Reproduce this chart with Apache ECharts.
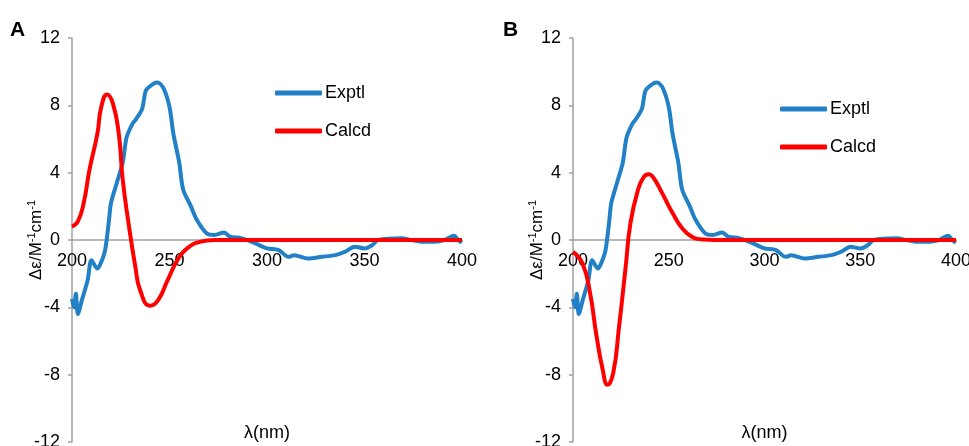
<!DOCTYPE html>
<html>
<head>
<meta charset="utf-8">
<script src="https://cdn.jsdelivr.net/npm/echarts@6/dist/echarts.min.js"></script>
<style>
  html, body { margin: 0; padding: 0; background: #fff; }
  #main { width: 969px; height: 446px; }
</style>
</head>
<body>
<div id="main"></div>
<script>
// experimental CD curve (same in both panels)
var exptlX = [200, 201, 202, 203, 205, 208, 210, 213, 215, 217, 219, 220, 223, 226, 228, 231, 233, 236, 238, 242,
              244, 247, 250, 252, 255, 257, 261, 264, 269, 273, 278, 281, 287, 294, 300, 306, 311, 314, 321, 328,
              335, 340, 345, 350, 354, 357, 369, 374, 379, 386, 391, 396, 398, 400];
var exptlY = [-3.5, -4.0, -3.2, -4.4, -3.6, -2.4, -1.2, -1.7, -1.3, -0.6, 1.2, 2.2, 3.4, 4.6, 6.1, 6.9, 7.2, 7.8, 8.9, 9.3,
              9.35, 9.0, 7.9, 6.3, 4.6, 3.0, 2.0, 1.2, 0.4, 0.3, 0.45, 0.2, 0.1, -0.2, -0.5, -0.6, -1.0, -0.9, -1.1, -1.0,
              -0.9, -0.7, -0.4, -0.5, -0.3, 0, 0.1, 0, -0.1, -0.1, 0, 0.25, 0, -0.15];

// calculated, panel A
var calcdAX = [200, 203, 206, 209, 213, 215, 218, 221, 224, 226, 229, 232.5, 235, 240, 244, 249, 254, 259, 266, 273, 300, 350, 400];
var calcdAY = [0.8, 1.1, 2.2, 4.2, 6.3, 7.9, 8.65, 8.1, 6.3, 3.6, 1.0, -1.6, -3.0, -3.9, -3.6, -2.4, -1.2, -0.5, -0.1, 0, 0, 0, 0];

// calculated, panel B
var calcdBX = [200, 205, 209, 212, 215.5, 218, 221, 224, 227.5, 230, 234, 237, 239.5, 242, 246.5, 252, 257, 262, 268, 280, 300, 350, 400];
var calcdBY = [-0.7, -1.4, -3.2, -5.5, -7.7, -8.6, -7.9, -5.2, -1.6, 1.0, 3.0, 3.75, 3.9, 3.7, 2.8, 1.6, 0.7, 0.2, 0.03, 0, 0, 0, 0];

function zip(xs, ys) {
    var out = [];
    for (var i = 0; i < xs.length; i++) out.push([xs[i], ys[i]]);
    return out;
}

var FONT = '"Liberation Sans", Arial, sans-serif';
var BLUE = '#2180c6';
var RED = '#ff0000';
var AXIS = '#a0a0a0';
var GRID_H = 404;

function xAx(idx) {
    return {
        type: 'value', gridIndex: idx, min: 200, max: 400, interval: 50,
        // put the axis on y = 0 (middle of the -12..12 range)
        offset: -GRID_H / 2,
        axisLine: { onZero: false, lineStyle: { color: AXIS, width: 1.5 } },
        axisTick: { show: false },
        splitLine: { show: false },
        axisLabel: { color: '#000', fontSize: 18, fontFamily: FONT, margin: 12, showMinLabel: true, showMaxLabel: true },
        name: 'λ(nm)', nameLocation: 'middle', nameGap: 184, nameMoveOverlap: false,
        nameTextStyle: { color: '#000', fontSize: 18, fontFamily: FONT }
    };
}

function yAx(idx) {
    return {
        type: 'value', gridIndex: idx, min: -12, max: 12, interval: 4,
        axisLine: { show: true, onZero: false, lineStyle: { color: AXIS, width: 1.5 } },
        axisTick: { show: true, length: 4, lineStyle: { color: AXIS, width: 1.5 } },
        splitLine: { show: false },
        axisLabel: { color: '#000', fontSize: 18, fontFamily: FONT, margin: 12 },
        name: '{t|Δε/M}{s|-1}{t|cm}{s|-1}', nameLocation: 'middle', nameGap: 26, nameMoveOverlap: false,
        nameTextStyle: {
            rich: {
                t: { fontSize: 17, fontFamily: FONT, color: '#000', lineHeight: 20 },
                s: { fontSize: 11, fontFamily: FONT, color: '#000', lineHeight: 20, verticalAlign: 'top', padding: [0, 0, 8, 0] }
            }
        }
    };
}

function lineSeries(name, color, data, idx, smooth) {
    return {
        name: name, type: 'line', xAxisIndex: idx, yAxisIndex: idx,
        data: data, showSymbol: false, smooth: smooth,
        lineStyle: { color: color, width: 4 },
        itemStyle: { color: color },
        emphasis: { disabled: true },
        z: name === 'Calcd' ? 3 : 2
    };
}

function legendAt(left, top) {
    return {
        orient: 'vertical', left: left, top: top, padding: 0,
        icon: 'roundRect', itemWidth: 47, itemHeight: 5, itemGap: 20,
        data: ['Exptl', 'Calcd'],
        textStyle: { color: '#000', fontSize: 18, fontFamily: FONT, padding: [0, 0, 0, -2] }
    };
}

var myChart = echarts.init(document.getElementById('main'));

option = {
    animation: false,
    grid: [
        { left: 72, top: 38, width: 390, height: GRID_H, outerBoundsMode: 'none', containLabel: false },
        { left: 573, top: 38, width: 383, height: GRID_H, outerBoundsMode: 'none', containLabel: false }
    ],
    xAxis: [xAx(0), xAx(1)],
    yAxis: [yAx(0), yAx(1)],
    legend: [legendAt(275, 84), legendAt(780, 100)],
    graphic: [
        { type: 'text', left: 10, top: 20, style: { text: 'A', font: 'bold 21px ' + FONT, fill: '#000' } },
        { type: 'text', left: 503, top: 20, style: { text: 'B', font: 'bold 21px ' + FONT, fill: '#000' } }
    ],
    series: [
        lineSeries('Exptl', BLUE, zip(exptlX, exptlY), 0, 0.3),
        lineSeries('Calcd', RED, zip(calcdAX, calcdAY), 0, 0.5),
        lineSeries('Exptl', BLUE, zip(exptlX, exptlY), 1, 0.3),
        lineSeries('Calcd', RED, zip(calcdBX, calcdBY), 1, 0.5)
    ]
};

myChart.setOption(option, true);

window.addEventListener("resize", function () {
    myChart.resize();
});
</script>
</body>
</html>
